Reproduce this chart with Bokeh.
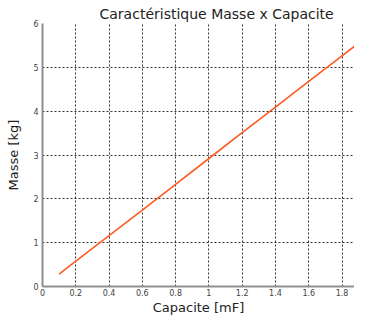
from bokeh.plotting import figure
from bokeh.models import Range1d, FixedTicker, Title
from bokeh.embed import file_html
from bokeh.resources import INLINE

capacite = [0.1, 0.2, 0.4, 0.6, 0.8, 1.0, 1.2, 1.4, 1.6, 1.8, 2.0]
masse = [0.28, 0.58, 1.16, 1.74, 2.33, 2.92, 3.51, 4.09, 4.68, 5.26, 5.85]
x_ticks = [0, 0.2, 0.4, 0.6, 0.8, 1, 1.2, 1.4, 1.6, 1.8]
x_tick_labels = ["0", "0.2", "0.4", "0.6", "0.8", "1", "1.2", "1.4", "1.6", "1.8"]
y_ticks = [0, 1, 2, 3, 4, 5, 6]

FONT = "DejaVu Sans"

p = figure(width=354, height=317, output_backend="svg", toolbar_location=None,
           x_range=Range1d(0, 1.875), y_range=Range1d(0, 6),
           min_border_left=42, min_border_right=0, min_border_top=23, min_border_bottom=20)
p.title = Title(text="Caractéristique Masse x Capacite", align="left", offset=57,
                text_font=FONT, text_font_size="14px", text_font_style="normal",
                text_color="#222222", standoff=3)
p.outline_line_color = None
p.background_fill_color = "white"
p.border_fill_color = "white"

p.line(capacite, masse, line_color="#ff5a1f", line_width=1.6)

p.xaxis.ticker = FixedTicker(ticks=x_ticks)
p.xaxis.major_label_overrides = {t: l for t, l in zip(x_ticks, x_tick_labels)}
p.yaxis.ticker = FixedTicker(ticks=y_ticks)

for ax in (p.xaxis[0], p.yaxis[0]):
    ax.axis_line_color = "#8f8f8f"
    ax.axis_line_width = 2
    ax.major_tick_line_color = None
    ax.minor_tick_line_color = None
    ax.major_tick_out = 0
    ax.major_tick_in = 0
    ax.minor_tick_out = 0
    ax.minor_tick_in = 0
    ax.major_label_text_font = FONT
    ax.major_label_text_font_size = "8px"
    ax.major_label_text_color = "#444444"
    ax.major_label_standoff = 2
    ax.axis_label_text_font = FONT
    ax.axis_label_text_font_size = "13px"
    ax.axis_label_text_font_style = "normal"
    ax.axis_label_text_color = "#222222"
    ax.axis_label_standoff = 1

p.xaxis.axis_label = "Capacite [mF]"
p.yaxis.axis_label = "Masse [kg]"
p.yaxis.major_label_standoff = 4
p.yaxis.axis_label_standoff = 9

p.xgrid.ticker = FixedTicker(ticks=x_ticks[1:])
p.ygrid.ticker = FixedTicker(ticks=y_ticks[1:])
for g in (p.xgrid[0], p.ygrid[0]):
    g.grid_line_color = "#333333"
    g.grid_line_dash = "2 2"
    g.grid_line_width = 1

open("out.html", "w").write(file_html(p, INLINE))
